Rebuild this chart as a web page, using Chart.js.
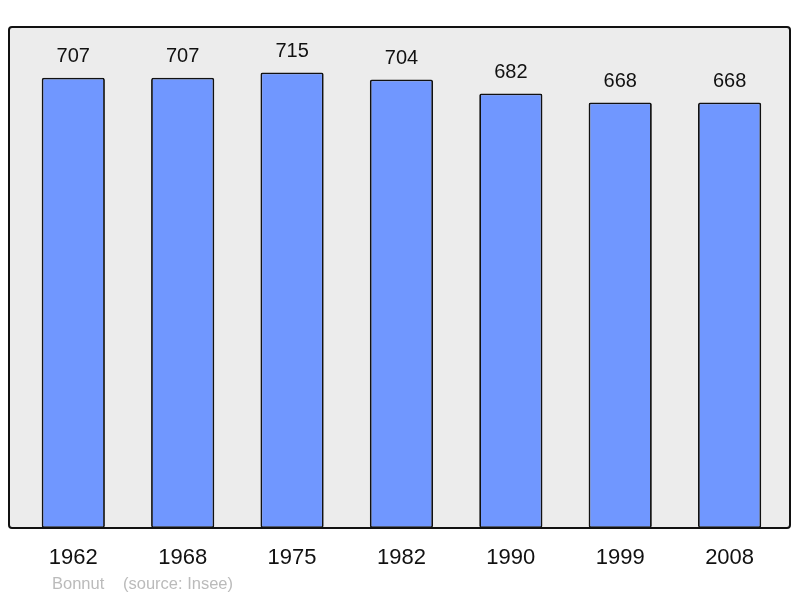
<!DOCTYPE html>
<html>
<head>
<meta charset="utf-8">
<script src="https://cdn.jsdelivr.net/npm/chart.js@4"></script>
<style>
  html, body { margin: 0; padding: 0; background: #fff; }
  #wrap { width: 800px; height: 598px; }
</style>
</head>
<body>
<div id="wrap"><canvas id="pop" width="800" height="598"></canvas></div>
<script>
    // années du recensement
    const years = ['1962', '1968', '1975', '1982', '1990', '1999', '2008'];
    // population
    const population = [707, 707, 715, 704, 682, 668, 668];
    const footerAuthor = 'Bonnut';
    const footerSource = '(source: Insee)';

    // fond gris + cadre
    const cadre = {
        id: 'cadre',
        beforeDatasetsDraw(chart) {
            const c = chart.ctx;
            c.save();
            c.fillStyle = '#ececec';
            c.beginPath();
            c.roundRect(9, 27, 781, 501, 3);
            c.fill();
            c.restore();
        },
        afterDatasetsDraw(chart) {
            const c = chart.ctx;
            c.save();
            c.strokeStyle = '#111';
            c.lineWidth = 2;
            c.beginPath();
            c.roundRect(9, 27, 781, 501, 3);
            c.stroke();

            // valeurs au-dessus des barres
            c.fillStyle = '#111';
            c.font = '20px "Liberation Sans", Arial, sans-serif';
            c.textAlign = 'center';
            c.textBaseline = 'middle';
            chart.getDatasetMeta(0).data.forEach((bar, i) => {
                c.fillText(population[i], bar.x, bar.y - 21);
            });

            // pied de page
            c.fillStyle = '#bbbbbb';
            c.font = '16.5px "Liberation Sans", Arial, sans-serif';
            c.textAlign = 'left';
            c.fillText(footerAuthor, 52, 584);
            c.fillText(footerSource, 123, 584);
            c.restore();
        }
    };

    const ctx = document.getElementById('pop').getContext('2d');
    const popChart = new Chart(ctx, {
        type: 'bar',
        data: {
            labels: years,
            datasets: [{
                data: population,
                backgroundColor: '#7097ff',
                borderColor: '#111',
                borderWidth: 1.8,
                borderRadius: 2,
                borderSkipped: false,
                barPercentage: 0.578,
                categoryPercentage: 1
            }]
        },
        options: {
            responsive: false,
            animation: false,
            layout: {
                padding: { top: 27, bottom: 11, left: 18.6, right: 15.7 }
            },
            plugins: {
                legend: { display: false },
                tooltip: { enabled: false }
            },
            scales: {
                y: {
                    display: false,
                    min: 0,
                    max: 786.5
                },
                x: {
                    grid: { display: false, drawTicks: false },
                    border: { display: false },
                    ticks: {
                        color: '#111',
                        padding: 16.3,
                        maxRotation: 0,
                        font: { family: '"Liberation Sans", Arial, sans-serif', size: 22 }
                    }
                }
            }
        },
        plugins: [cadre]
    });
</script>
</body>
</html>
